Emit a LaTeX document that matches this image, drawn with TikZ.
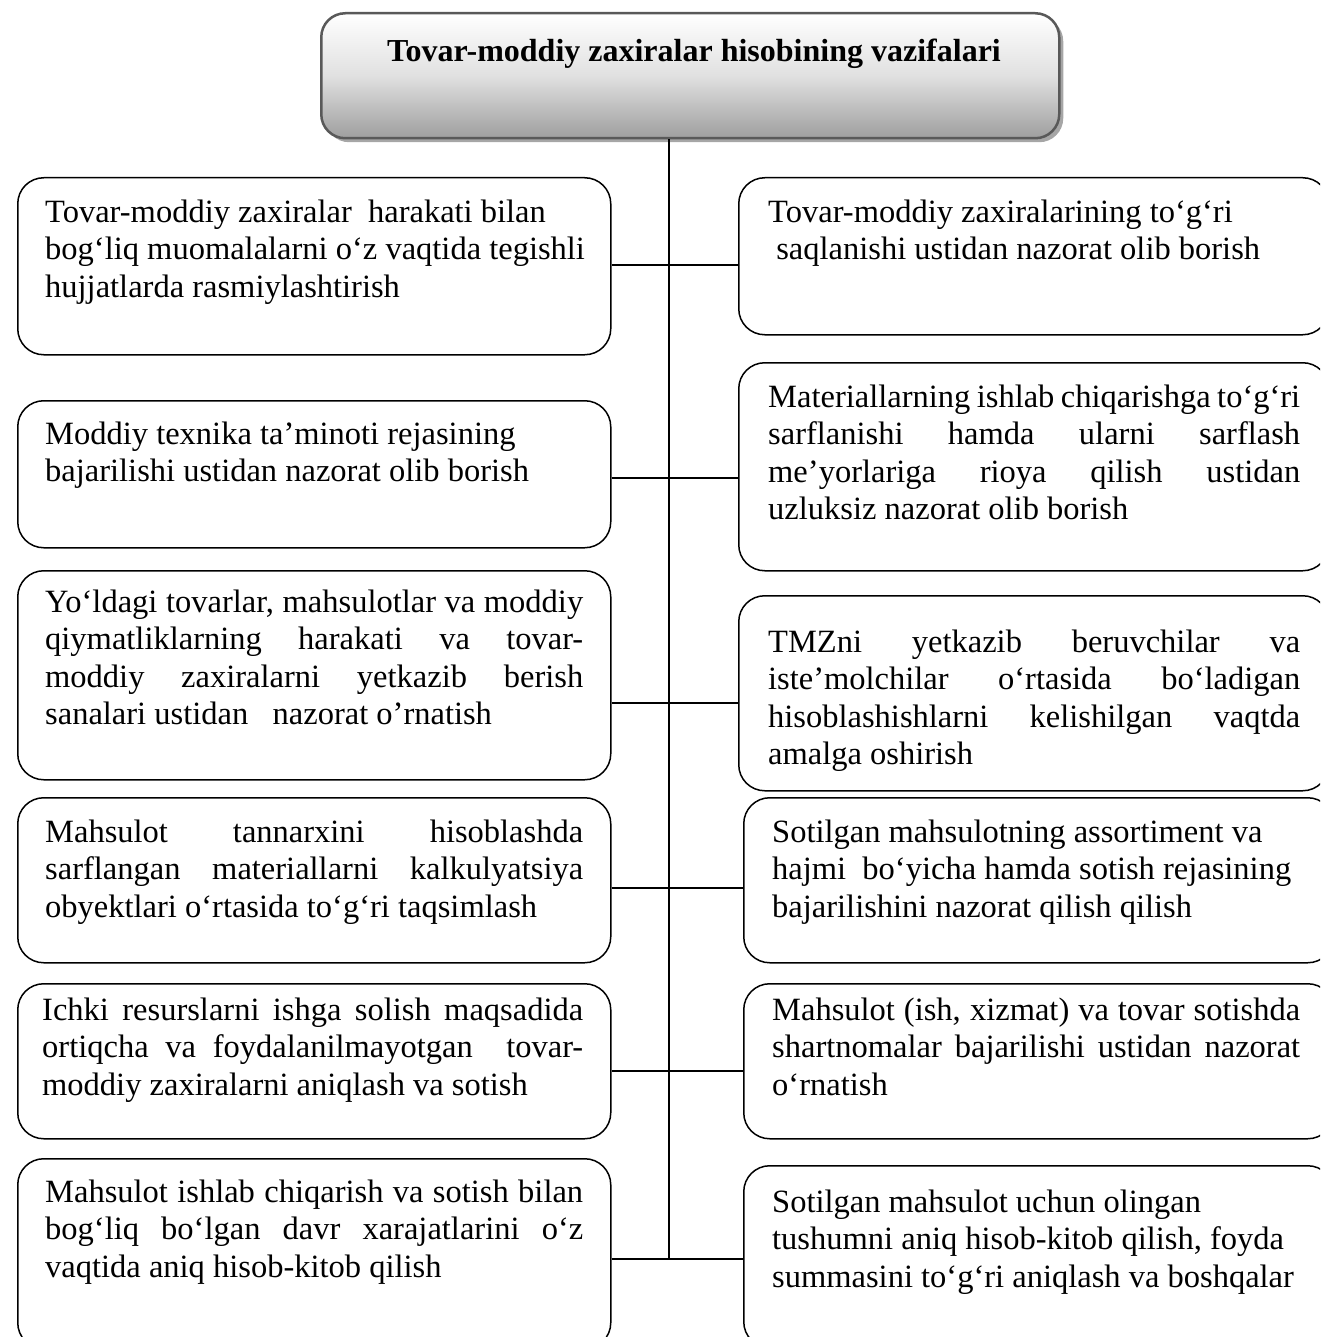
\documentclass[tikz,border=0pt]{standalone}
\usepackage{fontspec}
\setmainfont{Liberation Serif}
\usetikzlibrary{shadows}
% a justified line of given width
\newcommand{\jline}[2]{\makebox[#1][s]{#2}}
\begin{document}
\begin{tikzpicture}[x=1pt,y=-1pt,
  task/.style={draw=black, line width=1.5pt, rounded corners=26pt, anchor=north west,
    inner sep=0pt, fill=white, minimum width=593pt},
  rtask/.style={task, minimum width=590pt},
  txt/.style={font=\fontsize{32.5}{37.5}\selectfont, align=left, inner sep=0pt, anchor=north west},
  head/.style={draw=black!65, line width=2.5pt, rounded corners=24pt, anchor=north west,
    inner sep=0pt, top color=white, bottom color=black!38, middle color=black!12,
    drop shadow={shadow xshift=4pt, shadow yshift=-4pt, fill=black!35, opacity=1}},
  link/.style={draw=black, line width=2pt}]
\useasboundingbox (0,0) rectangle (1320,1337);
\clip (0,0) rectangle (1320,1337);

% heading
\node[head, minimum width=738pt, minimum height=125pt] (title) at (320,12) {};
\node[font=\fontsize{32}{37}\selectfont\bfseries, anchor=base, inner sep=0pt] (titlet) at (694,62)
  {Tovar-moddiy zaxiralar hisobining vazifalari};

% left column
\node[task, minimum height=177pt] (l1) at (17,177) {};
\node[task, minimum height=147pt] (l2) at (17,400) {};
\node[task, minimum height=209pt] (l3) at (17,570) {};
\node[task, minimum height=165pt] (l4) at (17,797) {};
\node[task, minimum height=155pt] (l5) at (17,983) {};
\node[task, minimum height=190pt] (l6) at (17,1158) {};

% right column
\node[rtask, minimum height=157pt] (r1) at (738,177) {};
\node[rtask, minimum height=208pt] (r2) at (738,362) {};
\node[rtask, minimum height=195pt] (r3) at (738,595) {};
\node[rtask, minimum height=165pt] (r4) at (743,797) {};
\node[rtask, minimum height=155pt] (r5) at (743,983) {};
\node[rtask, minimum height=182pt] (r6) at (743,1165) {};

% texts, left
\node[txt] (l1t) at (45,196) {\strut Tovar-moddiy zaxiralar\ \ harakati bilan\\
  bog‘liq muomalalarni o‘z vaqtida tegishli\\ hujjatlarda rasmiylashtirish};
\node[txt] (l2t) at (45,418) {\strut Moddiy texnika ta’minoti rejasining\\
  bajarilishi ustidan nazorat olib borish};
\node[txt] (l3t) at (45,586) {\strut\jline{538pt}{Yo‘ldagi tovarlar, mahsulotlar va moddiy}\\
  \jline{538pt}{qiymatliklarning harakati va tovar-}\\
  \jline{538pt}{moddiy zaxiralarni yetkazib berish}\\
  sanalari ustidan\ \ \ nazorat o’rnatish};
\node[txt] (l4t) at (45,816) {\strut\jline{538pt}{Mahsulot tannarxini hisoblashda}\\
  \jline{538pt}{sarflangan materiallarni kalkulyatsiya}\\
  obyektlari o‘rtasida to‘g‘ri taqsimlash};
\node[txt] (l5t) at (42,994) {\strut\jline{541pt}{Ichki resurslarni ishga solish maqsadida}\\
  \jline{541pt}{ortiqcha va foydalanilmayotgan\ \ tovar-}\\
  moddiy zaxiralarni aniqlash va sotish};
\node[txt] (l6t) at (45,1176) {\strut\jline{538pt}{Mahsulot ishlab chiqarish va sotish bilan}\\
  \jline{538pt}{bog‘liq bo‘lgan davr xarajatlarini o‘z}\\
  vaqtida aniq hisob-kitob qilish};

% texts, right
\node[txt] (r1t) at (768,196) {\strut Tovar-moddiy zaxiralarining to‘g‘ri\\
  \ saqlanishi ustidan nazorat olib borish};
\node[txt] (r2t) at (768,381) {\strut\jline{532pt}{Materiallarning ishlab chiqarishga to‘g‘ri}\\
  \jline{532pt}{sarflanishi hamda ularni sarflash}\\
  \jline{532pt}{me’yorlariga rioya qilish ustidan}\\
  uzluksiz nazorat olib borish};
\node[txt] (r3t) at (768,626) {\strut\jline{532pt}{TMZni yetkazib beruvchilar va}\\
  \jline{532pt}{iste’molchilar o‘rtasida bo‘ladigan}\\
  \jline{532pt}{hisoblashishlarni kelishilgan vaqtda}\\
  amalga oshirish};
\node[txt] (r4t) at (772,816) {\strut Sotilgan mahsulotning assortiment va\\
  hajmi\ \ bo‘yicha hamda sotish rejasining\\
  bajarilishini nazorat qilish qilish};
\node[txt] (r5t) at (772,994) {\strut\jline{528pt}{Mahsulot (ish, xizmat) va tovar sotishda}\\
  \jline{528pt}{shartnomalar bajarilishi ustidan nazorat}\\
  o‘rnatish};
\node[txt] (r6t) at (772,1186) {\strut Sotilgan mahsulot uchun olingan\\
  tushumni aniq hisob-kitob qilish, foyda\\
  summasini to‘g‘ri aniqlash va boshqalar};

% spine and branch junctions
\coordinate (j1) at (669,265);
\coordinate (j2) at (669,478);
\coordinate (j3) at (669,703);
\coordinate (j4) at (669,888);
\coordinate (j5) at (669,1071);
\coordinate (j6) at (669,1259);
\draw[link, line width=2.2pt] (title.south -| j6) -- (j6);
\foreach \k in {1,...,6}{
  \draw[link] (j\k -| l\k.east) -- (j\k -| r\k.west);
}
\end{tikzpicture}
\end{document}
